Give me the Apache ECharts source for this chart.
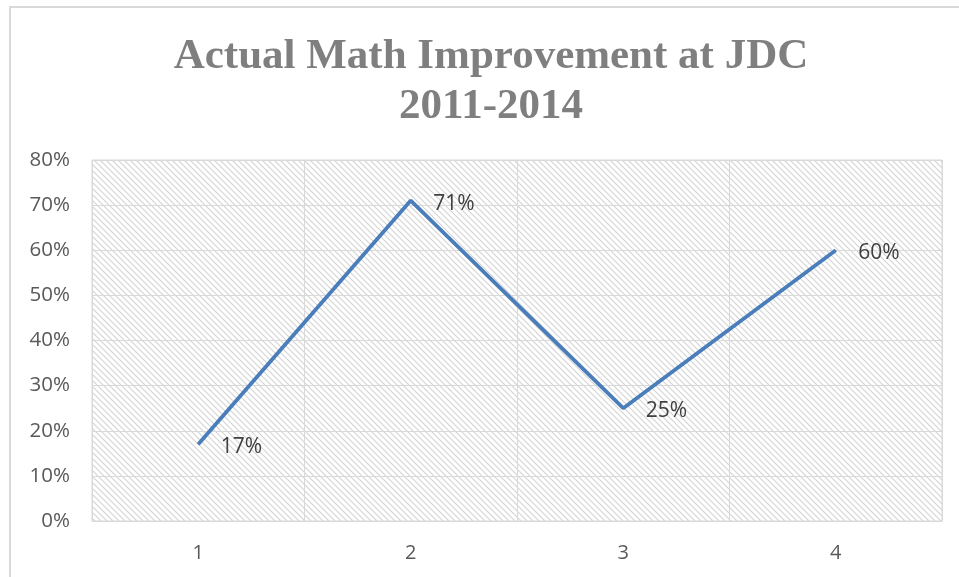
<!DOCTYPE html>
<html><head><meta charset="utf-8">
<script src="https://cdn.jsdelivr.net/npm/echarts@6/dist/echarts.min.js"></script>
<style>html,body{margin:0;padding:0;background:#fff}#c{width:959px;height:577px}</style>
</head><body><div id="c"></div>
<script>
const categories = ['1', '2', '3', '4'];
const values = [0.17, 0.71, 0.25, 0.60];
const yTicks = [0, 0.1, 0.2, 0.3, 0.4, 0.5, 0.6, 0.7, 0.8];
const titleText = 'Actual Math Improvement at JDC\n2011-2014';

function hatch() {
  const s = 6;
  const cv = document.createElement('canvas');
  cv.width = s; cv.height = s;
  const ctx = cv.getContext('2d');
  ctx.fillStyle = '#ffffff';
  ctx.fillRect(0, 0, s, s);
  ctx.strokeStyle = '#d4d4d4';
  ctx.lineWidth = 1.2;
  ctx.beginPath();
  ctx.moveTo(0, 0); ctx.lineTo(s, s);
  ctx.moveTo(-s, 0); ctx.lineTo(s, 2 * s);
  ctx.moveTo(0, -s); ctx.lineTo(2 * s, s);
  ctx.stroke();
  return cv;
}

const chart = echarts.init(document.getElementById('c'));
chart.setOption({
  animation: false,
  graphic: [{
    type: 'rect', shape: { x: 10, y: 7, width: 970, height: 590 },
    style: { fill: 'none', stroke: '#d9d9d9', lineWidth: 2 }, silent: true, z: -1
  }, {
    type: 'text', x: 491, y: 32,
    style: {
      text: titleText, align: 'center', verticalAlign: 'top',
      font: 'bold 43px "Liberation Serif"', fill: '#7f7f7f', lineHeight: 50
    }
  }],
  grid: {
    left: 92, right: 17, top: 160, bottom: 56, show: true,
    backgroundColor: { image: hatch(), repeat: 'repeat' },
    borderColor: '#d9d9d9', borderWidth: 1
  },
  xAxis: {
    type: 'category', data: categories, boundaryGap: true,
    axisLine: { lineStyle: { color: '#d9d9d9', width: 1 } },
    axisTick: { show: false },
    splitLine: { show: true, interval: 0, lineStyle: { color: '#d9d9d9', width: 1 } },
    axisLabel: { color: '#595959', fontSize: 20, fontFamily: 'Open Sans', margin: 22, interval: 0 }
  },
  yAxis: {
    type: 'value', min: 0, max: 0.8, interval: 0.1,
    axisLine: { show: false }, axisTick: { show: false },
    splitLine: { lineStyle: { color: '#d9d9d9', width: 1 } },
    axisLabel: {
      color: '#595959', fontSize: 20.5, fontFamily: 'Open Sans', margin: 22,
      formatter: v => Math.round(v * 100) + '%'
    }
  },
  series: [{
    type: 'line', data: values, symbol: 'circle', symbolSize: 1, showSymbol: true,
    itemStyle: { color: '#4a7ebb' },
    lineStyle: { color: '#4a7ebb', width: 3.8 },
    label: {
      show: true, position: 'right', distance: 22, offset: [0, 3],
      color: '#404040', fontSize: 21, fontFamily: 'Open Sans',
      formatter: p => Math.round(p.value * 100) + '%'
    }
  }]
});
</script></body></html>
